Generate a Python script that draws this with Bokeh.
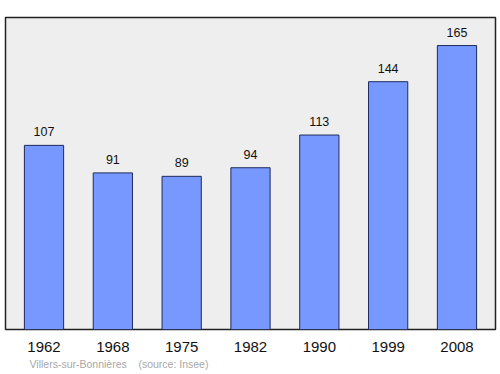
from bokeh.plotting import figure
from bokeh.models import ColumnDataSource, LabelSet, FactorRange, Title
from bokeh.core.properties import value
from bokeh.embed import file_html
from bokeh.resources import INLINE

years = ["1962", "1968", "1975", "1982", "1990", "1999", "2008"]
population = [107, 91, 89, 94, 113, 144, 165]
commune = "Villers-sur-Bonnières"
source_note = "(source: Insee)"

src = ColumnDataSource(dict(x=years, y=population, t=[str(v) for v in population]))

p = figure(
    x_range=FactorRange(*years, range_padding=0.017),
    y_range=(0, 181.3),
    width=498, height=372,
    output_backend="svg", toolbar_location=None,
    min_border_left=5, min_border_right=3, min_border_top=17, min_border_bottom=43,
)
p.border_fill_color = "#ffffff"
p.background_fill_color = "#eeeeee"
p.outline_line_color = "#222222"
p.outline_line_width = 1.5
p.grid.visible = False
p.yaxis.visible = False

p.vbar(x="x", top="y", width=0.57, source=src,
       fill_color="#7799ff", line_color="#1f2a5c", line_width=1)

labels = LabelSet(x="x", y="y", text="t", source=src, y_offset=9,
                  text_align="center", text_baseline="bottom",
                  text_font=value("Liberation Sans"), text_font_size=value("12.5px"),
                  text_color=value("#111111"))
p.add_layout(labels)

ax = p.xaxis[0]
ax.axis_line_color = None
ax.major_tick_line_color = None
ax.minor_tick_line_color = None
ax.major_label_text_font = "Liberation Sans"
ax.major_label_text_font_size = "15px"
ax.major_label_text_color = "#111111"
ax.major_label_standoff = 6

footer = Title(text=commune + "\u00a0\u00a0\u00a0\u00a0" + source_note,
               align="left", offset=24, standoff=2,
               text_font="Liberation Sans", text_font_size="10.5px",
               text_font_style="normal", text_color="#a8a8a8")
p.add_layout(footer, "below")

open("out.html", "w").write(file_html(p, INLINE))
